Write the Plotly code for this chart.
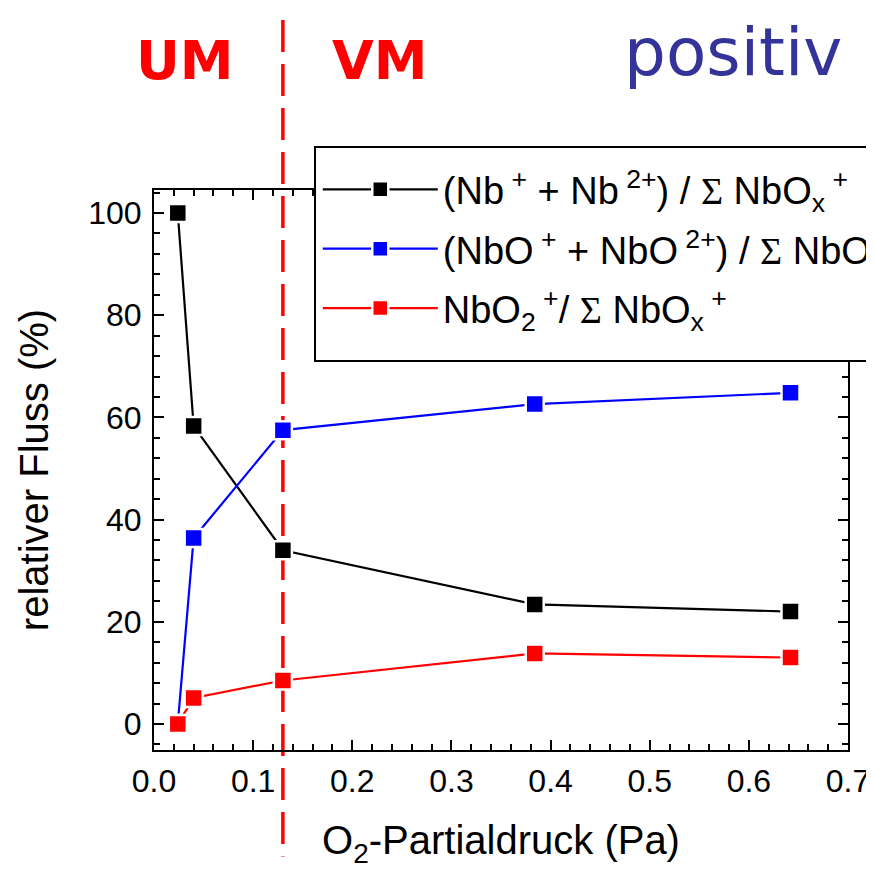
import plotly.graph_objects as go

# ---- data ----
x_pressure = [0.024, 0.040, 0.130, 0.384, 0.642]
nb_ratio = [100.0, 58.3, 34.0, 23.4, 22.0]
nbo_ratio = [0.0, 36.4, 57.5, 62.6, 64.8]
nbo2_ratio = [0.0, 5.1, 8.5, 13.8, 13.0]
boundary_x = 0.13

sigma = "<span style='font-family:Liberation Serif'>Σ</span>"
series_names = [
    "(Nb<sup> +</sup> + Nb<sup> 2+</sup>) / " + sigma + " NbO<sub>x</sub><sup> +</sup>",
    "(NbO<sup> +</sup> + NbO<sup> 2+</sup>) / " + sigma + " NbO<sub>x</sub><sup> +</sup>",
    "NbO<sub>2</sub><sup> +</sup>/ " + sigma + " NbO<sub>x</sub><sup> +</sup>",
]
series_colors = ["#000000", "#0000FF", "#FF0000"]
series_values = [nb_ratio, nbo_ratio, nbo2_ratio]

x_range = [0.0, 0.7]
y_range = [-5.1, 104.5]

fig = go.Figure()
for i, (name, vals, col) in enumerate(zip(series_names, series_values, series_colors)):
    fig.add_trace(go.Scatter(
        x=x_pressure, y=vals, name=name, mode="lines+markers",
        legendgroup=f"g{i}",
        line=dict(color=col, width=2.2),
        marker=dict(symbol="square", size=18, color=col,
                    line=dict(color="white", width=2.5)),
    ))

# dashed boundary line, position computed from the axis range
px = (boundary_x - x_range[0]) / (x_range[1] - x_range[0])
fig.add_shape(type="line", xref="paper", yref="paper",
              x0=px, x1=px, y0=1.3036, y1=-0.19,
              line=dict(color="#FF0000", width=3.5, dash="32px,12px"),
              layer="below")

# legend frame (white box covering the plot frame, like the reference)
fig.add_shape(type="rect", xref="paper", yref="paper",
              x0=0.232, x1=1.08, y0=0.6946, y1=1.0768,
              line=dict(color="black", width=2), fillcolor="white", layer="above")

ann_font = "DejaVu Sans"
fig.add_annotation(text="<b>UM</b>", xref="paper", yref="paper", x=0.045, y=1.232,
                   xanchor="center", yanchor="middle",
                   showarrow=False, font=dict(family=ann_font, size=54, color="#FF0000"))
fig.add_annotation(text="<b>VM</b>", xref="paper", yref="paper", x=0.326, y=1.232,
                   xanchor="center", yanchor="middle",
                   showarrow=False, font=dict(family=ann_font, size=54, color="#FF0000"))
fig.add_annotation(text="positiv", xref="paper", yref="paper", x=0.834, y=1.245,
                   xanchor="center", yanchor="middle",
                   showarrow=False, font=dict(family=ann_font, size=66, color="#333399"))

axis_common = dict(
    showline=True, linewidth=2, linecolor="black", mirror="ticks",
    ticks="inside", ticklen=10, tickwidth=2, tickcolor="black",
    showgrid=False, zeroline=False, automargin=False,
    tickfont=dict(family="Liberation Sans, Arial", size=32, color="black"),
)

fig.update_xaxes(
    range=x_range, dtick=0.1, tick0=0, tickformat=".1f",
    minor=dict(ticks="inside", ticklen=6, tickwidth=2, tickcolor="black", dtick=0.02),
    title=dict(text="O<sub>2</sub>-Partialdruck (Pa)", standoff=28,
               font=dict(family="Liberation Sans, Arial", size=40, color="black")),
    ticklabelstandoff=2,
    **axis_common,
)
fig.update_yaxes(
    range=y_range, dtick=20, tick0=0,
    minor=dict(ticks="inside", ticklen=6, tickwidth=2, tickcolor="black", dtick=4, tick0=0),
    title=dict(text="relativer Fluss (%)", standoff=27,
               font=dict(family="Liberation Sans, Arial", size=40, color="black")),
    ticklabelstandoff=4,
    **axis_common,
)

# the page has an 8px body margin, so the figure is 8px smaller than the window
fig.update_layout(
    width=866, height=861,
    margin=dict(l=146, r=26, t=182, b=119, autoexpand=False),
    paper_bgcolor="white", plot_bgcolor="white",
    showlegend=True,
    legend=dict(x=0.236, y=1.057, xanchor="left", yanchor="top",
                bgcolor="rgba(0,0,0,0)", borderwidth=0,
                font=dict(family="Liberation Sans, Arial", size=38, color="black"),
                itemwidth=115, tracegroupgap=7, traceorder="grouped"),
)

fig.write_html("out.html")
